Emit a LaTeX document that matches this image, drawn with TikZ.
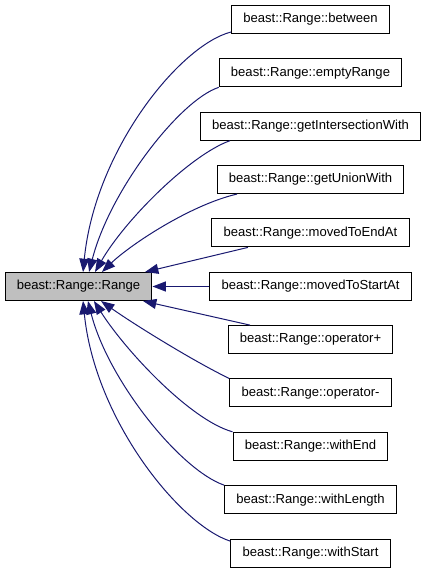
\documentclass[tikz,border=0pt]{standalone}
\usepackage{fontspec}
\setmainfont{Liberation Sans}
\usetikzlibrary{arrows.meta}
\definecolor{edgeblue}{HTML}{191970}
\definecolor{mainfill}{HTML}{BFBFBF}
\begin{document}
\begin{tikzpicture}[x=0.75pt,y=-0.75pt,
  box/.style={draw=black,line width=0.75pt,fill=white,inner xsep=8.8pt,inner ysep=0pt,minimum height=21pt,font=\fontsize{9.8}{12}\selectfont},
  mainbox/.style={box,fill=mainfill},
  edge/.style={draw=edgeblue,line width=0.75pt,-{Triangle[length=10pt,width=7.5pt]}}]
\useasboundingbox (0,0) rectangle (427,573);
\node[mainbox] (main) at (78.5,286.5) {beast::Range::Range};
\node[box] (between) at (310.5,19.5) {beast::Range::between};
\node[box] (empty) at (310.5,72.85) {beast::Range::emptyRange};
\node[box] (inter) at (310.5,126.2) {beast::Range::getIntersectionWith};
\node[box] (union) at (310.5,179.55) {beast::Range::getUnionWith};
\node[box] (endat) at (310.5,232.9) {beast::Range::movedToEndAt};
\node[box] (startat) at (310.5,286.5) {beast::Range::movedToStartAt};
\node[box] (plus) at (310.5,339.6) {beast::Range::operator+};
\node[box] (minus) at (310.5,392.95) {beast::Range::operator-};
\node[box] (wend) at (310.5,446.3) {beast::Range::withEnd};
\node[box] (wlen) at (310.5,499.65) {beast::Range::withLength};
\node[box] (wstart) at (310.5,553) {beast::Range::withStart};
% top edges
\draw[edge] ([yshift=1.5pt]between.south west) .. controls (180,45) and (95,150) .. ([xshift=3.4pt]main.north);
\draw[edge] (empty.south west) .. controls (180,100) and (110,190) .. ([xshift=7.9pt]main.north);
\draw[edge] ([xshift=-60.4pt]inter.south) .. controls (190,155) and (125,220) .. ([xshift=12.4pt]main.north);
\draw[edge] ([xshift=-55.1pt]union.south) .. controls (190,205) and (130,245) .. ([xshift=17.6pt]main.north);
\draw[edge] ([xshift=-46.9pt]endat.south) -- ([xshift=49.9pt]main.north);
\draw[edge] (startat.west) -- (main.east);
% bottom edges
\draw[edge] ([xshift=-45.4pt]plus.north) -- ([xshift=48.4pt]main.south);
\draw[edge] (minus.north west) .. controls (195,362) and (135,325) .. ([xshift=16.9pt]main.south);
\draw[edge] (wend.north west) .. controls (190,420) and (125,350) .. ([xshift=11.6pt]main.south);
\draw[edge] (wlen.north west) .. controls (180,470) and (108,380) .. ([xshift=7.1pt]main.south);
\draw[edge] ([yshift=-2pt]wstart.north west) .. controls (180,525) and (95,420) .. ([xshift=3.4pt]main.south);
\end{tikzpicture}
\end{document}
